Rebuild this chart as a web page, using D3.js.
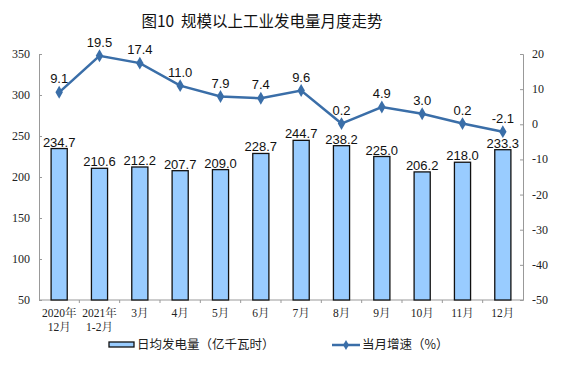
<!DOCTYPE html>
<html><head><meta charset="utf-8">
<script src="https://cdn.jsdelivr.net/npm/d3@7"></script>
<style>body{margin:0;background:#fff}svg{display:block}</style>
</head><body>
<svg id="c" width="561" height="378"></svg>
<script>
const categories = ["2020年\n12月","2021年\n1-2月","3月","4月","5月","6月","7月","8月","9月","10月","11月","12月"];
const dailyPower = [234.7,210.6,212.2,207.7,209.0,228.7,244.7,238.2,225.0,206.2,218.0,233.3];
const growth = [9.1,19.5,17.4,11.0,7.9,7.4,9.6,0.2,4.9,3.0,0.2,-2.1];
const leftTicks = [50,100,150,200,250,300,350];
const rightTicks = [-50,-40,-30,-20,-10,0,10,20];
const title = "图10\u00A0\u00A0规模以上工业发电量月度走势";
const legendBar = "日均发电量（亿千瓦时）";
const legendLine = "当月增速（%）";

const svg = d3.select("#c");
const L = 39, R = 523, T = 54, B = 300;
const x = d3.scaleBand().domain(categories).range([L, R]).paddingInner(0.6).paddingOuter(0.3);
const xb = d3.scaleBand().domain(categories).range([L, R]);
const yL = d3.scaleLinear().domain([50, 350]).range([B, T]);
const yR = d3.scaleLinear().domain([-50, 20]).range([B, T]);
const numFont = "'Liberation Serif','Times New Roman',serif";
const cjkFont = "'Liberation Serif','Noto Serif CJK SC','Noto Sans CJK SC',serif";
const arial = "'Liberation Sans',Arial,sans-serif";

svg.append("text").attr("x", 262).attr("y", 27).attr("text-anchor", "middle")
  .attr("font-family", "'Noto Sans CJK SC',sans-serif").attr("font-size", 15.5).attr("fill", "#111")
  .text(title);

// axes
const axL = svg.append("g").attr("transform", `translate(${L},0)`)
  .call(d3.axisRight(yL).tickValues(leftTicks).tickSize(3).tickFormat(""));
const axR = svg.append("g").attr("transform", `translate(${R},0)`)
  .call(d3.axisLeft(yR).tickValues(rightTicks).tickSize(3).tickFormat(""));
[axL, axR].forEach(a => { a.selectAll("path,line").attr("stroke", "#999"); });
svg.selectAll(".lt").data(leftTicks).join("text").attr("class","lt")
  .attr("x", 30).attr("y", d => yL(d) + 4).attr("text-anchor", "end")
  .attr("font-family", numFont).attr("font-size", 12).attr("fill", "#222").text(d => d);
svg.selectAll(".rt").data(rightTicks).join("text").attr("class","rt")
  .attr("x", 532).attr("y", d => yR(d) + 4).attr("text-anchor", "start")
  .attr("font-family", numFont).attr("font-size", 12).attr("fill", "#222").text(d => d);

// bottom axis
svg.append("line").attr("x1", L).attr("x2", R).attr("y1", B).attr("y2", B).attr("stroke", "#999");
svg.selectAll(".bt").data(categories.slice(1)).join("line").attr("class","bt")
  .attr("x1", d => xb(d)).attr("x2", d => xb(d)).attr("y1", B).attr("y2", B + 3).attr("stroke", "#999");

// bars
svg.selectAll(".bar").data(dailyPower).join("rect").attr("class","bar")
  .attr("x", (d,i) => x(categories[i])).attr("width", x.bandwidth())
  .attr("y", d => yL(d)).attr("height", d => B - yL(d))
  .attr("fill", "#99CCFF").attr("stroke", "#111").attr("stroke-width", 1.3);
svg.selectAll(".bl").data(dailyPower).join("text").attr("class","bl")
  .attr("x", (d,i) => x(categories[i]) + x.bandwidth()/2).attr("y", d => yL(d) - 2)
  .attr("text-anchor", "middle").attr("font-family", arial).attr("font-size", 13).attr("fill", "#111")
  .text(d => d.toFixed(1));

// x labels
categories.forEach((c, i) => {
  const lines = c.split("\n");
  const t = svg.append("text").attr("text-anchor", "middle").attr("font-family", cjkFont)
    .attr("font-size", 11.5).attr("fill", "#222");
  lines.forEach((s, j) => t.append("tspan").attr("x", xb(c) + xb.bandwidth()/2).attr("y", 317 + j*14).text(s));
});

// line
const cx = i => xb(categories[i]) + xb.bandwidth()/2;
svg.append("path").datum(growth)
  .attr("d", d3.line().x((d,i) => cx(i)).y(d => yR(d)))
  .attr("fill", "none").attr("stroke", "#3A6EA8").attr("stroke-width", 2.5);
svg.selectAll(".pt").data(growth).join("path").attr("class","pt")
  .attr("transform", (d,i) => `translate(${cx(i)},${yR(d)})`)
  .attr("d", d3.symbol(d3.symbolDiamond, 48)).attr("fill", "#3A6EA8");
svg.selectAll(".gl").data(growth).join("text").attr("class","gl")
  .attr("x", (d,i) => cx(i)).attr("y", d => yR(d) - 9)
  .attr("text-anchor", "middle").attr("font-family", arial).attr("font-size", 13).attr("fill", "#111")
  .text(d => d.toFixed(1));

// legend
svg.append("rect").attr("x", 109).attr("y", 342).attr("width", 25).attr("height", 5)
  .attr("fill", "#99CCFF").attr("stroke", "#111").attr("stroke-width", 1.3);
svg.append("text").attr("x", 137).attr("y", 349).attr("font-family", "'Noto Sans CJK SC',sans-serif")
  .attr("font-size", 12.5).attr("fill", "#222").text(legendBar);
svg.append("line").attr("x1", 332).attr("x2", 360).attr("y1", 345).attr("y2", 345)
  .attr("stroke", "#3A6EA8").attr("stroke-width", 2.5);
svg.append("path").attr("transform", "translate(346,345)").attr("d", d3.symbol(d3.symbolDiamond, 30)).attr("fill", "#3A6EA8");
svg.append("text").attr("x", 362).attr("y", 349).attr("font-family", "'Noto Sans CJK SC',sans-serif")
  .attr("font-size", 12.5).attr("fill", "#222").text(legendLine);
</script>
</body></html>
